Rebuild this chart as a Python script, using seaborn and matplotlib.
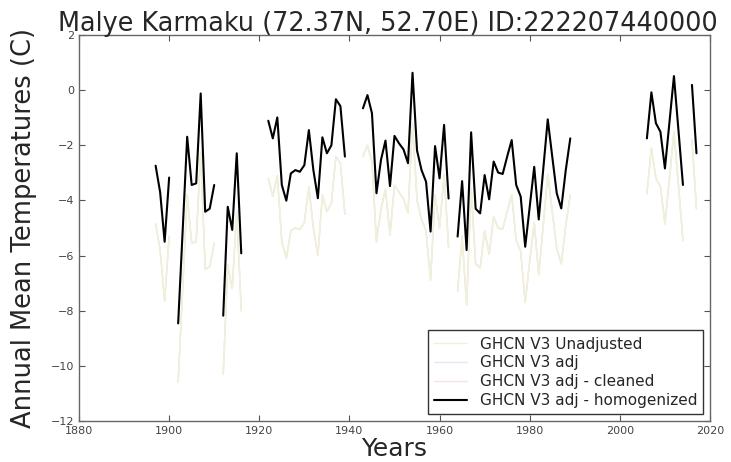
import numpy as np
import pandas as pd
import seaborn as sns
import matplotlib
matplotlib.use("Agg")
from matplotlib import pyplot as plt
from matplotlib.lines import Line2D

nan = np.nan

# annees 1897 .. 2017 (NaN = pas de donnee -> coupure de la courbe)
years = list(range(1897, 2018))

homogenized = [
    -2.74, -3.7, -5.5, -3.17, nan,
    -8.46, -5.1, -1.69, -3.44, -3.38, -0.12, -4.41, -4.3, -3.44, nan,
    -8.18, -4.23, -5.07, -2.29, -5.92,
    nan, nan, nan, nan, nan,
    -1.11, -1.75, -0.99, -3.44, -4.01, -3.02, -2.9, -2.96, -2.72, -1.45,
    -2.9, -3.92, -1.71, -2.29, -2.0, -0.33, -0.58, -2.41,
    nan, nan, nan,
    -0.66, -0.18, -0.84, -3.74, -2.53, -1.83, -3.48, -1.66, -1.93, -2.15,
    -2.65, 0.63, -2.19, -2.9, -3.32, -5.13, -2.03, -3.2, -1.26, -3.93,
    nan,
    -5.31, -3.3, -5.8, -1.53, -4.3, -4.47, -3.08, -3.96, -2.59, -2.99,
    -3.04, -2.41, -1.81, -3.44, -3.86, -5.68, -4.23, -2.78, -4.69, -2.87,
    -1.06, -2.41, -3.74, -4.29, -2.9, -1.75,
    nan, nan, nan, nan, nan, nan, nan, nan, nan, nan, nan, nan, nan, nan, nan, nan,
    -1.75, -0.08, -1.2, -1.51, -2.84, -1.17, 0.51, -1.45, -3.44, nan,
    0.19, -2.29,
]

unadjusted = [
    -4.85, -5.8, -7.65, -5.3, nan,
    -10.6, -7.2, -3.8, -5.55, -5.5, -2.25, -6.5, -6.4, -5.55, nan,
    -10.3, -6.35, -7.2, -4.4, -8.0,
    nan, nan, nan, nan, nan,
    -3.2, -3.85, -3.1, -5.5, -6.1, -5.1, -5.0, -5.05, -4.8, -3.5,
    -5.0, -6.0, -3.8, -4.4, -4.1, -2.4, -2.65, -4.5,
    nan, nan, nan,
    -2.4, -2.0, -2.6, -5.5, -4.3, -3.6, -5.25, -3.45, -3.7, -3.95,
    -4.45, -1.2, -4.0, -4.7, -5.1, -6.9, -3.8, -5.0, -3.05, -5.7,
    nan,
    -7.3, -5.3, -7.8, -3.55, -6.3, -6.45, -5.1, -5.95, -4.6, -5.0,
    -5.05, -4.4, -3.8, -5.45, -5.85, -7.7, -6.2, -4.8, -6.7, -4.9,
    -3.05, -4.4, -5.75, -6.3, -4.9, -3.8,
    nan, nan, nan, nan, nan, nan, nan, nan, nan, nan, nan, nan, nan, nan, nan, nan,
    -3.75, -2.1, -3.2, -3.5, -4.85, -3.2, -1.5, -3.45, -5.45, nan,
    -1.8, -4.3,
]

# adj et cleaned quasi confondus avec les donnees brutes sur la figure
adjusted = list(unadjusted)
cleaned = list(unadjusted)

series_labels = ["GHCN V3 Unadjusted", "GHCN V3 adj", "GHCN V3 adj - cleaned", "GHCN V3 adj - homogenized"]
series_colors = ["#f0f2d8", "#e4e6f4", "#f6e2e2", "black"]
series_widths = [1.0, 1.0, 1.0, 1.5]


def to_frame(values):
    df = pd.DataFrame({"year": years, "temp": values})
    # un identifiant de segment pour garder les trous (seaborn retire les NaN)
    df["seg"] = df["temp"].isna().cumsum()
    return df.dropna()


sns.set_style("ticks")
plt.rcParams["font.family"] = ["DejaVu Sans"]

fig = plt.figure(figsize=(7.31, 4.62), dpi=100)
ax = fig.add_axes([79 / 731, 1 - 421 / 462, 631 / 731, 386 / 462])

for values, color, lw, z in zip([adjusted, cleaned, unadjusted, homogenized],
                                 [series_colors[1], series_colors[2], series_colors[0], series_colors[3]],
                                 [1.0, 1.0, 1.0, 1.5], [1, 2, 3, 4]):
    sns.lineplot(data=to_frame(values), x="year", y="temp", units="seg", estimator=None,
                 color=color, linewidth=lw, ax=ax, zorder=z)

ax.set_xlim(1880, 2020)
ax.set_ylim(-12, 2)
ax.set_xticks(np.arange(1880, 2021, 20))
ax.set_yticks(np.arange(-12, 3, 2))
ax.tick_params(direction="in", top=True, right=True, labelsize=8, labelcolor="#444444",
               color="#555555", length=4)
for sp in ax.spines.values():
    sp.set_color("#666666")
    sp.set_linewidth(1.0)

ax.set_title("Malye Karmaku (72.37N, 52.70E) ID:222207440000", fontsize=18.4, pad=3, x=0.49)
ax.set_xlabel("Years", fontsize=18, labelpad=1)
ax.set_ylabel("Annual Mean Temperatures (C)", fontsize=18.5, labelpad=10)

handles = [Line2D([0], [0], color=c, lw=w) for c, w in zip(series_colors, series_widths)]
leg = ax.legend(handles, series_labels, loc="lower right", fontsize=11, fancybox=False,
                framealpha=1, borderaxespad=0.45, handlelength=2.2, labelspacing=0.25)
leg.get_frame().set_edgecolor("#333333")

plt.savefig("out.png", dpi=100)
